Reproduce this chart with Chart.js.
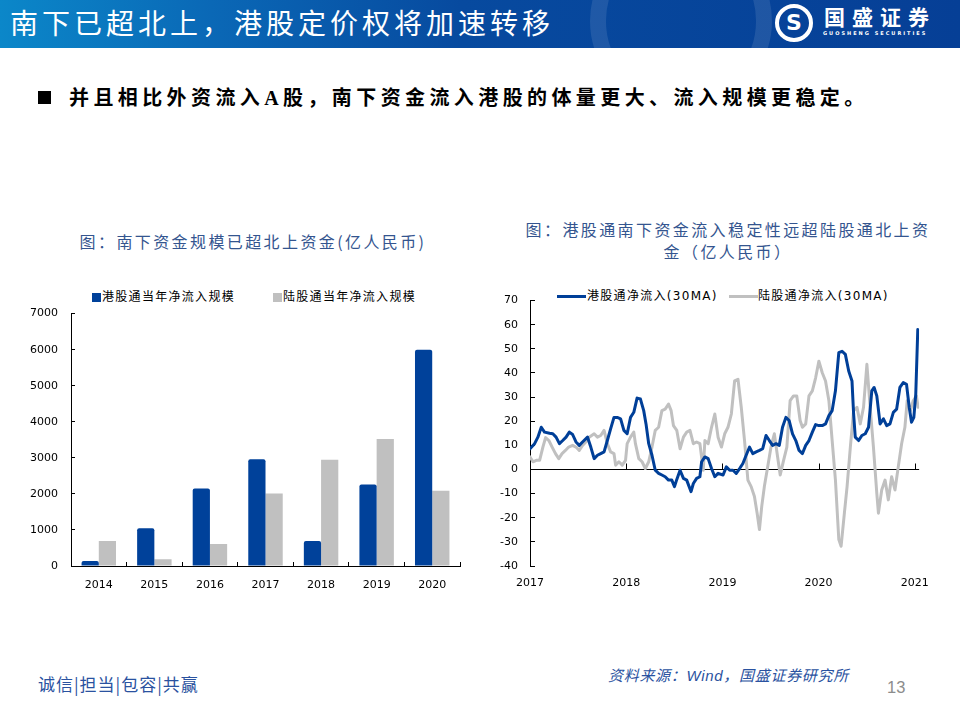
<!DOCTYPE html>
<html>
<head>
<meta charset="utf-8">
<script src="https://cdn.jsdelivr.net/npm/chart.js@4.4.1/dist/chart.umd.min.js"></script>
<style>
  body { margin: 0; width: 960px; height: 720px; background: #fff; position: relative; overflow: hidden; font-family: "Noto Sans CJK SC", sans-serif; }
  .abs { position: absolute; white-space: nowrap; }
  #header { left: 0; top: 0; width: 960px; height: 48px; overflow: hidden;
    background: linear-gradient(90deg, #0b87c9 0%, #0a68b6 22%, #074a9f 48%, #063f96 100%); }
  #ring { left: 590px; top: -70px; width: 150px; height: 150px; border-radius: 50%; border: 16px solid rgba(255,255,255,0.10); }
  #title { left: 10px; top: 0; line-height: 44px; font-size: 28px; letter-spacing: 4px; color: #fff; }
  #logoIcon { left: 775px; top: 4px; width: 30px; height: 30px; border: 4px solid #fff; border-radius: 50%;
    color: #fff; font: bold 22px/30px "DejaVu Sans", sans-serif; text-align: center; }
  #logoText { left: 824px; top: 2px; line-height: 28px; font-size: 21px; font-weight: bold; letter-spacing: 7px; color: #fff; }
  #logoSub { left: 823px; top: 30px; line-height: 6px; font: bold 5px "DejaVu Sans", sans-serif; letter-spacing: 2px; color: #fff; }
  #bullet { left: 38px; top: 91px; width: 13px; height: 13px; background: #000; }
  #sub { left: 69px; top: 84px; line-height: 28px; font-size: 20px; font-weight: bold; letter-spacing: 4.4px; color: #000;
    font-family: "Liberation Serif", "Noto Sans CJK SC", serif; }
  .ctitle { font-size: 16px; letter-spacing: 2.4px; color: #34558f; line-height: 22px; text-align: center; }
  .leg { font-size: 12px; line-height: 16px; letter-spacing: 1.3px; color: #000; font-family: "DejaVu Sans", "Noto Sans CJK SC", sans-serif; }
  .sq { width: 9px; height: 9px; }
  .ln { width: 29px; height: 3px; }
  #motto { left: 38px; top: 672px; line-height: 24px; font-size: 17px; letter-spacing: 1px; color: #2a52a0; }
  #source { left: 608px; top: 665px; line-height: 22px; font-size: 15px; letter-spacing: 0.7px; color: #2a52a0; font-style: italic;
    font-family: "Liberation Sans", "Noto Sans CJK SC", sans-serif; }
  #page { left: 887px; top: 677px; line-height: 20px; font-size: 16.5px; color: #8c8c8c; font-family: "Liberation Sans", sans-serif; }
  canvas { position: absolute; }
</style>
</head>
<body>
<div id="header" class="abs">
  <div id="ring" class="abs"></div>
  <div id="title" class="abs">南下已超北上，港股定价权将加速转移</div>
  <div id="logoIcon" class="abs">S</div>
  <div id="logoText" class="abs">国盛证券</div>
  <div id="logoSub" class="abs">GUOSHENG SECURITIES</div>
</div>
<div id="bullet" class="abs"></div>
<div id="sub" class="abs">并且相比外资流入A股，南下资金流入港股的体量更大、流入规模更稳定。</div>

<div class="abs ctitle" style="left:53px;top:230px;width:400px;">图：南下资金规模已超北上资金(亿人民币)</div>
<div class="abs ctitle" style="left:478px;top:218px;width:500px;">图：港股通南下资金流入稳定性远超陆股通北上资</div>
<div class="abs ctitle" style="left:478px;top:240px;width:500px;">金（亿人民币）</div>

<div class="abs sq" style="left:92px;top:293px;background:#00419a;"></div>
<div class="abs leg" style="left:102px;top:289px;">港股通当年净流入规模</div>
<div class="abs sq" style="left:273px;top:293px;background:#c0c0c0;"></div>
<div class="abs leg" style="left:283px;top:289px;">陆股通当年净流入规模</div>

<div class="abs ln" style="left:557px;top:295px;background:#003f98;"></div>
<div class="abs leg" style="left:587px;top:288px;">港股通净流入(30MA)</div>
<div class="abs ln" style="left:729px;top:295px;background:#c0c0c0;"></div>
<div class="abs leg" style="left:758px;top:288px;">陆股通净流入(30MA)</div>

<canvas id="barChart" width="480" height="310" style="left:0;top:290px;"></canvas>
<canvas id="lineChart" width="470" height="323" style="left:470px;top:277px;"></canvas>

<div id="motto" class="abs">诚信|担当|包容|共赢</div>
<div id="source" class="abs">资料来源：Wind，国盛证券研究所</div>
<div id="page" class="abs">13</div>

<script>
// left chart: yearly net inflow (亿人民币)
const years = ['2014', '2015', '2016', '2017', '2018', '2019', '2020'];
const southYear = [140, 1050, 2150, 2960, 690, 2260, 6000];
const northYear = [690, 190, 610, 2010, 2950, 3520, 2090];
const barTicks = [0, 1000, 2000, 3000, 4000, 5000, 6000, 7000];

// right chart: 30 day moving average, x in decimal years
const southX = [2017.000, 2017.048, 2017.082, 2017.117, 2017.151, 2017.203, 2017.237, 2017.271, 2017.306, 2017.340,
  2017.375, 2017.409, 2017.443, 2017.478, 2017.512, 2017.546, 2017.598, 2017.632, 2017.667, 2017.701,
  2017.735, 2017.770, 2017.804, 2017.838, 2017.873, 2017.907, 2017.942, 2017.976, 2018.010, 2018.045,
  2018.079, 2018.113, 2018.148, 2018.182, 2018.206, 2018.234, 2018.268, 2018.302, 2018.337, 2018.371,
  2018.405, 2018.440, 2018.474, 2018.502, 2018.526, 2018.560, 2018.595, 2018.629, 2018.674, 2018.698,
  2018.732, 2018.766, 2018.784, 2018.818, 2018.852, 2018.887, 2018.921, 2018.955, 2019.007, 2019.041,
  2019.076, 2019.110, 2019.144, 2019.179, 2019.213, 2019.247, 2019.282, 2019.316, 2019.351, 2019.385,
  2019.419, 2019.454, 2019.488, 2019.522, 2019.557, 2019.591, 2019.625, 2019.660, 2019.694, 2019.729,
  2019.763, 2019.797, 2019.832, 2019.866, 2019.900, 2019.935, 2019.969, 2020.003, 2020.038, 2020.072,
  2020.107, 2020.141, 2020.175, 2020.210, 2020.244, 2020.278, 2020.313, 2020.347, 2020.364, 2020.381,
  2020.416, 2020.450, 2020.485, 2020.519, 2020.553, 2020.577, 2020.605, 2020.639, 2020.674, 2020.708,
  2020.742, 2020.777, 2020.811, 2020.845, 2020.880, 2020.914, 2020.942, 2020.966, 2020.990, 2021.010,
  2021.031];
const southMA = [8.6, 10.7, 13.4, 17.5, 15.5, 15.0, 14.8, 13.4, 10.7, 12.0,
  13.4, 15.5, 14.5, 11.4, 10.0, 11.4, 13.4, 9.3, 4.5, 5.9,
  6.6, 7.3, 12.0, 16.8, 21.6, 21.6, 21.0, 16.2, 14.8, 21.6,
  23.7, 29.6, 29.2, 24.4, 18.9, 10.7, 5.9, -0.3, -1.6, -2.3,
  -3.0, -4.4, -4.4, -7.1, -4.1, -0.3, -3.7, -4.4, -9.2, -5.8,
  -3.7, -3.0, 3.2, 5.2, 4.5, 0.4, -3.0, -1.6, -2.3, 1.1,
  -0.3, -0.3, -1.6, 0.4, 2.5, 5.9, 9.3, 6.6, 7.3, 7.9,
  8.6, 14.1, 12.0, 10.0, 10.7, 10.0, 17.5, 21.6, 20.3, 14.8,
  12.0, 7.9, 6.6, 10.0, 12.0, 15.5, 18.6, 18.2, 18.2, 18.9,
  22.3, 24.4, 32.6, 48.4, 49.0, 47.7, 40.8, 36.7, 23.0, 13.4,
  12.0, 14.1, 14.8, 17.5, 32.6, 34.0, 30.5, 18.9, 21.0, 18.2,
  18.9, 23.7, 25.0, 34.0, 36.0, 35.3, 25.8, 19.6, 21.6, 31.2,
  58.0];

const northX = [2017.000, 2017.031, 2017.065, 2017.100, 2017.134, 2017.162, 2017.196, 2017.230, 2017.265, 2017.299,
  2017.333, 2017.368, 2017.402, 2017.443, 2017.478, 2017.512, 2017.546, 2017.581, 2017.615, 2017.667,
  2017.701, 2017.735, 2017.770, 2017.804, 2017.838, 2017.873, 2017.890, 2017.924, 2017.959, 2017.993,
  2018.010, 2018.045, 2018.079, 2018.096, 2018.131, 2018.165, 2018.199, 2018.234, 2018.268, 2018.302,
  2018.337, 2018.371, 2018.405, 2018.440, 2018.467, 2018.491, 2018.526, 2018.560, 2018.595, 2018.629,
  2018.663, 2018.698, 2018.732, 2018.766, 2018.801, 2018.818, 2018.852, 2018.887, 2018.921, 2018.955,
  2018.990, 2019.024, 2019.058, 2019.093, 2019.127, 2019.162, 2019.196, 2019.230, 2019.265, 2019.299,
  2019.333, 2019.361, 2019.385, 2019.409, 2019.436, 2019.471, 2019.505, 2019.540, 2019.574, 2019.601,
  2019.636, 2019.670, 2019.704, 2019.739, 2019.773, 2019.808, 2019.832, 2019.866, 2019.900, 2019.935,
  2019.969, 2020.003, 2020.038, 2020.072, 2020.107, 2020.141, 2020.175, 2020.210, 2020.234, 2020.268,
  2020.296, 2020.330, 2020.364, 2020.399, 2020.433, 2020.467, 2020.502, 2020.536, 2020.570, 2020.605,
  2020.622, 2020.656, 2020.691, 2020.725, 2020.759, 2020.794, 2020.828, 2020.863, 2020.897, 2020.921,
  2020.955, 2020.983, 2021.017, 2021.034];
const northMA = [5.2, 3.2, 3.8, 3.8, 9.3, 13.2, 12.0, 9.3, 6.6, 4.5,
  6.6, 7.9, 9.3, 10.0, 9.3, 7.9, 10.0, 11.4, 13.4, 14.8,
  13.4, 14.1, 16.2, 10.7, 7.3, 6.6, 1.8, 3.2, 1.8, 3.8,
  10.7, 13.4, 15.5, 10.7, 4.5, 3.2, 0.4, 3.2, 9.3, 16.2,
  17.5, 24.4, 25.0, 27.1, 24.4, 18.2, 16.2, 8.6, 13.4, 15.5,
  16.2, 10.7, 11.4, 10.7, -0.3, 12.0, 10.7, 17.5, 23.0, 13.4,
  9.3, 14.8, 17.5, 23.0, 36.7, 37.4, 25.8, 12.0, -4.4, -7.1,
  -11.2, -18.1, -24.9, -15.3, -7.1, 1.1, 9.3, 14.8, 5.2, -2.3,
  3.8, 9.3, 28.5, 30.5, 30.5, 20.3, 17.5, 18.9, 30.5, 32.6,
  38.0, 44.9, 40.1, 36.7, 28.5, 12.0, -4.4, -29.0, -31.8, -18.1,
  -7.1, 9.3, 24.4, 25.8, 18.9, 25.8, 43.6, 25.8, 9.3, -9.9,
  -18.1, -8.5, -4.4, -12.6, -3.0, -8.5, 1.1, 10.7, 17.5, 28.5,
  24.4, 28.5, 30.5, 25.8];
const flowTicks = [-40, -30, -20, -10, 0, 10, 20, 30, 40, 50, 60, 70];
const yearTicks = [2017, 2018, 2019, 2020, 2021];

Chart.defaults.font.family = "'DejaVu Sans', 'Noto Sans CJK SC', sans-serif";
Chart.defaults.font.size = 11;
Chart.defaults.color = '#000';

// top of plot area is set by the y label padding, so the canvases sit a bit higher
new Chart(document.getElementById('barChart'), {
  type: 'bar',
  data: {
    labels: years,
    datasets: [
      { label: '港股通当年净流入规模', data: southYear, backgroundColor: '#00419a',
        categoryPercentage: 0.62, barPercentage: 1, borderRadius: { topLeft: 2, topRight: 2 } },
      { label: '陆股通当年净流入规模', data: northYear, backgroundColor: '#c0c0c0',
        categoryPercentage: 0.62, barPercentage: 1 }
    ]
  },
  options: {
    responsive: false,
    animation: false,
    layout: { padding: { top: 0, right: 20, bottom: 0, left: 0 } },
    plugins: { legend: { display: false }, tooltip: { enabled: false } },
    scales: {
      x: {
        grid: { drawOnChartArea: false, tickLength: -4, color: '#000', offset: true },
        border: { color: '#000' },
        ticks: { padding: 17 },
        afterFit: s => { s.height = 34; }
      },
      y: {
        min: 0, max: 7000,
        afterBuildTicks: s => { s.ticks = barTicks.map(v => ({ value: v })); },
        grid: { drawOnChartArea: false, tickLength: -4, color: '#000' },
        border: { color: '#000' },
        ticks: { padding: 17, callback: v => String(v) },
        afterFit: s => { s.width = 71; }
      }
    }
  }
});

// small year ticks standing on the zero line
const zeroTicks = {
  id: 'zeroTicks',
  beforeDatasetsDraw(chart) {
    const { ctx, scales: { x, y } } = chart;
    const y0 = Math.round(y.getPixelForValue(0)) + 0.5;
    ctx.save();
    ctx.strokeStyle = '#000';
    ctx.lineWidth = 1;
    yearTicks.forEach(v => {
      const px = Math.round(x.getPixelForValue(v)) + 0.5;
      ctx.beginPath();
      ctx.moveTo(px, y0);
      ctx.lineTo(px, y0 - 6);
      ctx.stroke();
    });
    ctx.restore();
  }
};

new Chart(document.getElementById('lineChart'), {
  type: 'line',
  data: {
    datasets: [
      { label: '港股通净流入(30MA)', data: southX.map((x, i) => ({ x: x, y: southMA[i] })),
        borderColor: '#003f98', borderWidth: 3, pointRadius: 0, tension: 0,
        borderJoinStyle: 'round', borderCapStyle: 'round' },
      { label: '陆股通净流入(30MA)', data: northX.map((x, i) => ({ x: x, y: northMA[i] })),
        borderColor: '#c0c0c0', borderWidth: 3, pointRadius: 0, tension: 0,
        borderJoinStyle: 'round', borderCapStyle: 'round' }
    ]
  },
  options: {
    responsive: false,
    animation: false,
    layout: { padding: { top: 0, right: 18, bottom: 0, left: 0 } },
    plugins: { legend: { display: false }, tooltip: { enabled: false } },
    scales: {
      x: {
        type: 'linear', min: 2017, max: 2021.045,
        afterBuildTicks: s => { s.ticks = yearTicks.map(v => ({ value: v })); },
        grid: { display: false, drawTicks: false },
        border: { display: false },
        ticks: { padding: 11, maxRotation: 0, autoSkip: false, callback: v => String(v) },
        afterFit: s => { s.height = 34; }
      },
      y: {
        min: -40, max: 70,
        afterBuildTicks: s => { s.ticks = flowTicks.map(v => ({ value: v })); },
        grid: { color: c => (c.tick && c.tick.value === 0 ? '#000' : 'rgba(0,0,0,0)'),
                tickColor: '#000', tickLength: -5 },
        border: { color: '#000' },
        ticks: { padding: 17 },
        afterFit: s => { s.width = 60; }
      }
    }
  },
  plugins: [zeroTicks]
});
</script>
</body>
</html>
